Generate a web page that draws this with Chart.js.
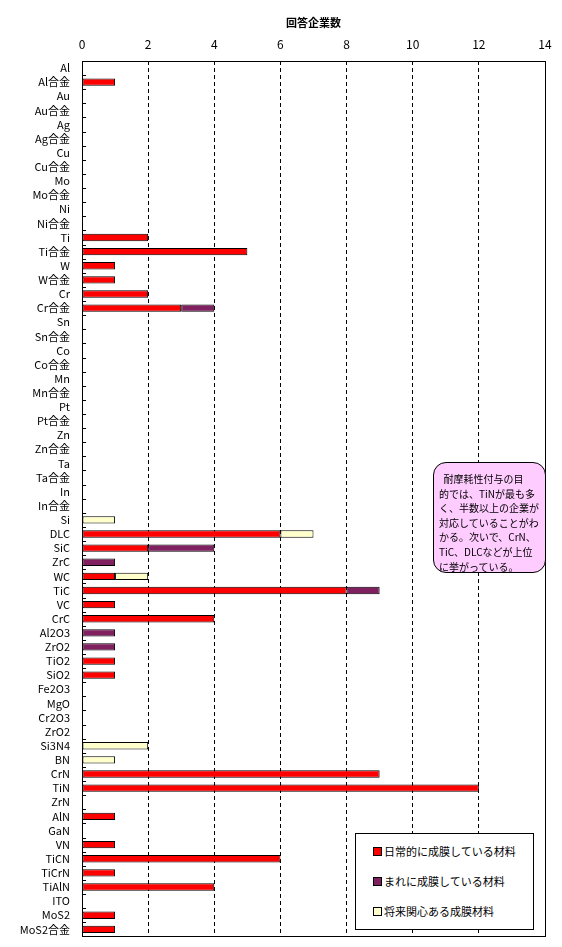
<!DOCTYPE html>
<html>
<head>
<meta charset="utf-8">
<script src="https://cdn.jsdelivr.net/npm/chart.js@4.4.1/dist/chart.umd.min.js"></script>
<style>
  body { margin: 0; background: #fff; font-family: "Noto Sans CJK JP", sans-serif; }
  #wrap { position: relative; width: 562px; height: 947px; }
  #legend {
    position: absolute; left: 355px; top: 833px; width: 177px; height: 95px;
    border: 1px solid #000; background: #fff; font-size: 11px;
  }
  #legend div { position: absolute; left: 17px; height: 14px; line-height: 14px; white-space: nowrap; }
  #legend span { display: inline-block; width: 7px; height: 7px; border: 1px solid #000; margin-right: 2px; vertical-align: 0px; }
  #note {
    position: absolute; left: 433px; top: 462px; width: 113px; height: 111px;
    border: 1px solid #000; border-radius: 13px; background: #ffccff;
    font-size: 10px; line-height: 14.6px; box-sizing: border-box; padding: 9px 0 0 5px; white-space: nowrap;
  }
</style>
</head>
<body>
<div id="wrap">
  <canvas id="barChart" width="562" height="947"></canvas>
  <div id="legend"></div>
  <div id="note">&nbsp;&nbsp;耐摩耗性付与の目<br>的では、TiNが最も多<br>く、半数以上の企業が<br>対応していることがわ<br>かる。次いで、CrN、<br>TiC、DLCなどが上位<br>に挙がっている。</div>
</div>
<script>
const materials = ["Al", "Al合金", "Au", "Au合金", "Ag", "Ag合金", "Cu", "Cu合金", "Mo", "Mo合金",
  "Ni", "Ni合金", "Ti", "Ti合金", "W", "W合金", "Cr", "Cr合金", "Sn", "Sn合金",
  "Co", "Co合金", "Mn", "Mn合金", "Pt", "Pt合金", "Zn", "Zn合金", "Ta", "Ta合金",
  "In", "In合金", "Si", "DLC", "SiC", "ZrC", "WC", "TiC", "VC", "CrC",
  "Al2O3", "ZrO2", "TiO2", "SiO2", "Fe2O3", "MgO", "Cr2O3", "ZrO2", "Si3N4", "BN",
  "CrN", "TiN", "ZrN", "AlN", "GaN", "VN", "TiCN", "TiCrN", "TiAlN", "ITO",
  "MoS2", "MoS2合金"];

// 日常的に成膜している材料
const daily = [0, 1, 0, 0, 0, 0, 0, 0, 0, 0,
  0, 0, 2, 5, 1, 1, 2, 3, 0, 0,
  0, 0, 0, 0, 0, 0, 0, 0, 0, 0,
  0, 0, 0, 6, 2, 0, 1, 8, 1, 4,
  0, 0, 1, 1, 0, 0, 0, 0, 0, 0,
  9, 12, 0, 1, 0, 1, 6, 1, 4, 0,
  1, 1];
// まれに成膜している材料
const rarely = [0, 0, 0, 0, 0, 0, 0, 0, 0, 0,
  0, 0, 0, 0, 0, 0, 0, 1, 0, 0,
  0, 0, 0, 0, 0, 0, 0, 0, 0, 0,
  0, 0, 0, 0, 2, 1, 0, 1, 0, 0,
  1, 1, 0, 0, 0, 0, 0, 0, 0, 0,
  0, 0, 0, 0, 0, 0, 0, 0, 0, 0,
  0, 0];
// 将来関心ある成膜材料
const future = [0, 0, 0, 0, 0, 0, 0, 0, 0, 0,
  0, 0, 0, 0, 0, 0, 0, 0, 0, 0,
  0, 0, 0, 0, 0, 0, 0, 0, 0, 0,
  0, 0, 1, 1, 0, 0, 1, 0, 0, 0,
  0, 0, 0, 0, 0, 0, 0, 0, 2, 1,
  0, 0, 0, 0, 0, 0, 0, 0, 0, 0,
  0, 0];

const xTicks = [0, 2, 4, 6, 8, 10, 12, 14];
const seriesNames = ["日常的に成膜している材料", "まれに成膜している材料", "将来関心ある成膜材料"];
const seriesColors = ["#ff0000", "#802060", "#ffffcc"];

const FONT = "'Noto Sans CJK JP', sans-serif";

// frame + small tick marks between categories (inside the plot)
const frame = {
  id: "frame",
  afterDraw(chart) {
    const ctx = chart.ctx, a = chart.chartArea, y = chart.scales.y;
    ctx.save();
    ctx.strokeStyle = "#000";
    ctx.lineWidth = 1;
    ctx.setLineDash([]);
    ctx.strokeRect(Math.round(a.left) + 0.5, Math.round(a.top) + 0.5,
      Math.round(a.right - a.left), Math.round(a.bottom - a.top));
    ctx.beginPath();
    for (let i = 1; i < materials.length; i++) {
      const yy = Math.round((y.getPixelForTick(i - 1) + y.getPixelForTick(i)) / 2) + 0.5;
      ctx.moveTo(a.left, yy);
      ctx.lineTo(a.left + 4, yy);
    }
    ctx.stroke();
    ctx.restore();
  }
};

new Chart(document.getElementById("barChart"), {
  type: "bar",
  data: {
    labels: materials,
    datasets: [
      { label: seriesNames[0], data: daily, backgroundColor: seriesColors[0] },
      { label: seriesNames[1], data: rarely, backgroundColor: seriesColors[1] },
      { label: seriesNames[2], data: future, backgroundColor: seriesColors[2] }
    ].map(d => Object.assign(d, {
      borderColor: "#000", borderWidth: 1, borderSkipped: false,
      barPercentage: 0.52, categoryPercentage: 1
    }))
  },
  options: {
    indexAxis: "y",
    responsive: false,
    animation: false,
    layout: { padding: { left: 0, right: 17, top: 0, bottom: 7 } },
    plugins: { legend: { display: false }, tooltip: { enabled: false } },
    scales: {
      x: {
        position: "top",
        stacked: true,
        min: 0, max: 14,
        afterBuildTicks: s => { s.ticks = xTicks.map(v => ({ value: v })); },
        afterFit: s => { s.height = 61; },
        ticks: { color: "#000", font: { family: FONT, size: 12 }, padding: 9, maxRotation: 0 },
        grid: { color: "#000", lineWidth: 1, drawTicks: false },
        border: { display: false, dash: [4, 3] },
        title: { display: true, text: "回答企業数", color: "#000", font: { family: FONT, size: 11, weight: "bold" }, padding: { top: 16, bottom: 4 } }
      },
      y: {
        stacked: true,
        afterFit: s => { s.width = 82; },
        ticks: { color: "#000", font: { family: FONT, size: 11 }, padding: 4, autoSkip: false },
        grid: { display: false },
        border: { display: false }
      }
    }
  },
  plugins: [frame]
});

const legend = document.getElementById("legend");
seriesNames.forEach((n, i) => {
  const row = document.createElement("div");
  row.style.top = (10 + i * 30) + "px";
  row.innerHTML = '<span style="background:' + seriesColors[i] + '"></span>' + n;
  legend.appendChild(row);
});
</script>
</body>
</html>
